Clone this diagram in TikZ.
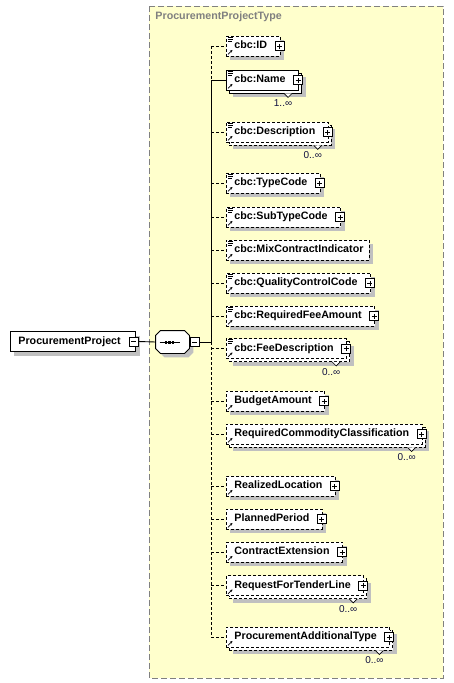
\documentclass[tikz,border=0pt]{standalone}
\usepackage{fontspec}
\setmainfont{Liberation Sans}
\usetikzlibrary{shadows,arrows.meta,positioning}
\definecolor{xsyellow}{HTML}{FFFFCC}
\definecolor{xsgray}{HTML}{808080}
\definecolor{xsshadow}{HTML}{C0C0C0}
\definecolor{xsnavy}{HTML}{101040}
\tikzset{
  elbox/.style={draw, fill=white, anchor=west, minimum height=20pt, inner xsep=0pt, inner ysep=0pt,
    text height=7.6pt, text depth=2pt, font=\fontsize{10.7}{13}\selectfont\bfseries,
    execute at begin node=\hspace*{8pt}},
  opt/.style={dash pattern=on 3pt off 2pt},
  wplus/.style={execute at end node=\hspace*{13pt}},
  nplus/.style={execute at end node=\hspace*{6pt}},
  shad/.style={drop shadow={shadow xshift=4pt, shadow yshift=-4pt, opacity=1, fill=xsshadow, draw=none}},
  many/.style={drop shadow={shadow xshift=7pt, shadow yshift=-7pt, opacity=1, fill=xsshadow, draw=none},
    copy shadow={shadow xshift=3pt, shadow yshift=-3pt}},
  plusbox/.style={draw, solid, fill=white, line width=0.8pt, minimum size=9pt, inner sep=0pt,
    path picture={\draw[line width=0.8pt]
      ([xshift=-2.5pt]path picture bounding box.center) -- ([xshift=2.5pt]path picture bounding box.center)
      ([yshift=-2.5pt]path picture bounding box.center) -- ([yshift=2.5pt]path picture bounding box.center);}},
  minusbox/.style={draw, solid, fill=white, line width=0.8pt, minimum size=9pt, inner sep=0pt,
    path picture={\draw[line width=0.8pt]
      ([xshift=-2.5pt]path picture bounding box.center) -- ([xshift=2.5pt]path picture bounding box.center);}},
  seqbox/.style={rectangle, minimum width=33pt, minimum height=22pt, inner sep=0pt},
  mult/.style={font=\fontsize{10}{12}\selectfont, text=xsnavy, inner sep=0pt, anchor=north},
  dsh/.style={dash pattern=on 3pt off 2pt}
}
\newcommand\octopath[1]{([xshift=5pt]#1.north west) -- ([xshift=-5pt]#1.north east)
  -- ([yshift=-5pt]#1.north east) -- ([yshift=5pt]#1.south east) -- ([xshift=-5pt]#1.south east)
  -- ([xshift=5pt]#1.south west) -- ([yshift=5pt]#1.south west) -- ([yshift=-5pt]#1.north west) -- cycle}
\begin{document}
\begin{tikzpicture}[x=1pt, y=-1pt, line width=0.9pt, line join=miter, >=Stealth]
  \useasboundingbox (0,0) rectangle (453,683);
  % complex type frame
  \path[fill=xsyellow, draw=xsgray, dash pattern=on 6pt off 3pt] (149,6) rectangle (443,678);
  \node[anchor=west, inner sep=0pt, text=xsgray, font=\fontsize{10.7}{13}\selectfont\bfseries] (ttl) at (155,17) {ProcurementProjectType};
  \coordinate (spine) at (211,0);

  % root element and sequence
  \node[elbox, shad, execute at end node=\hspace*{15pt}] (pp) at (10,341.5) {ProcurementProject};
  \node[minusbox] (pp-minus) at ([xshift=-2.5pt]pp.east) {};
  \node[seqbox] (seq) at (172.5,342) {};
  \fill[xsshadow, transform canvas={shift={(4pt,-4pt)}}] \octopath{seq};
  \draw[fill=white] \octopath{seq};
  \node[minusbox] (seq-minus) at (194.5,342) {};
  \draw ([xshift=-13pt]seq.center) -- ([xshift=7pt]seq.center);
  \foreach \dx in {-6.5,-3,0.5}
    \fill ([shift={(\dx-1.1,-1.5)}]seq.center) rectangle ++(2.2,3);

  % child elements
  \node[elbox, opt, shad, wplus]  (id)   at (226,46)    {cbc:ID};
  \node[elbox, many, wplus]       (name) at (226,80)    {cbc:Name};
  \node[elbox, opt, many, wplus]  (desc) at (226,132)   {cbc:Description};
  \node[elbox, opt, shad, wplus]  (tc)   at (226,183)   {cbc:TypeCode};
  \node[elbox, opt, shad, wplus]  (stc)  at (226,217)   {cbc:SubTypeCode};
  \node[elbox, opt, shad, nplus]  (mci)  at (226,250)   {cbc:MixContractIndicator};
  \node[elbox, opt, shad, wplus]  (qcc)  at (226,283)   {cbc:QualityControlCode};
  \node[elbox, opt, shad, wplus]  (rfa)  at (226,316)   {cbc:RequiredFeeAmount};
  \node[elbox, opt, many, wplus]  (fd)   at (226,348.5) {cbc:FeeDescription};
  \node[elbox, opt, shad, wplus]  (ba)   at (226,401)   {BudgetAmount};
  \node[elbox, opt, many, wplus]  (rcc)  at (226,434)   {RequiredCommodityClassification};
  \node[elbox, opt, shad, wplus]  (rl)   at (226,486)   {RealizedLocation};
  \node[elbox, opt, shad, wplus]  (plp)  at (226,519)   {PlannedPeriod};
  \node[elbox, opt, shad, wplus]  (ce)   at (226,552)   {ContractExtension};
  \node[elbox, opt, many, wplus]  (rftl) at (226,585.5) {RequestForTenderLine};
  \node[elbox, opt, many, wplus]  (pat)  at (226,637)   {ProcurementAdditionalType};

  % expand buttons
  \foreach \n in {id,name,desc,tc,stc,qcc,rfa,fd,ba,rcc,rl,plp,ce,rftl,pat}
    \node[plusbox] (\n-plus) at ([xshift=-1pt]\n.east) {};

  % documentation and reference icons
  \foreach \n in {id,name,desc,tc,stc,mci,qcc,rfa,fd}
    \draw[solid, line width=0.7pt] ([shift={(2,1.5)}]\n.north west) -- ++(5,0)
      ([shift={(2,3.5)}]\n.north west) -- ++(5,0) ([shift={(2,5.5)}]\n.north west) -- ++(4,0);
  \foreach \n in {id,name,desc,tc,stc,mci,qcc,rfa,fd,ba,rcc,rl,plp,ce,rftl,pat}
    \draw[solid, line width=0.7pt, -{Stealth[length=2.6pt,width=2.6pt]}] ([shift={(2,-2)}]\n.south west) -- ++(4.5,-4.5);

  % occurrences
  \foreach \n/\m in {name/1,desc/0,fd/0,rcc/0,rftl/0,pat/0}{
    \draw[fill=white, line width=0.7pt] ([shift={(-15,3)}]\n.south east) -- ++(4,4) -- ++(4,-4);
    \node[mult] (\n-mult) at ([shift={(-16,9)}]\n.south east) {\m..∞};
  }

  % connectors
  \draw (pp-minus.east) -- (seq.west);
  \draw (seq-minus.east) -- (seq-minus.east -| spine);
  \draw[dsh] (id.west -| spine) -- (name.west -| spine);
  \draw (name.west -| spine) -- (seq-minus.east -| spine);
  \draw[dsh] (seq-minus.east -| spine) -- (pat.west -| spine);
  \draw (name.west -| spine) -- (name.west);
  \foreach \n in {id,desc,tc,stc,mci,qcc,rfa,fd,ba,rcc,rl,plp,ce,rftl,pat}
    \draw[dsh] (\n.west -| spine) -- (\n.west);
\end{tikzpicture}
\end{document}
